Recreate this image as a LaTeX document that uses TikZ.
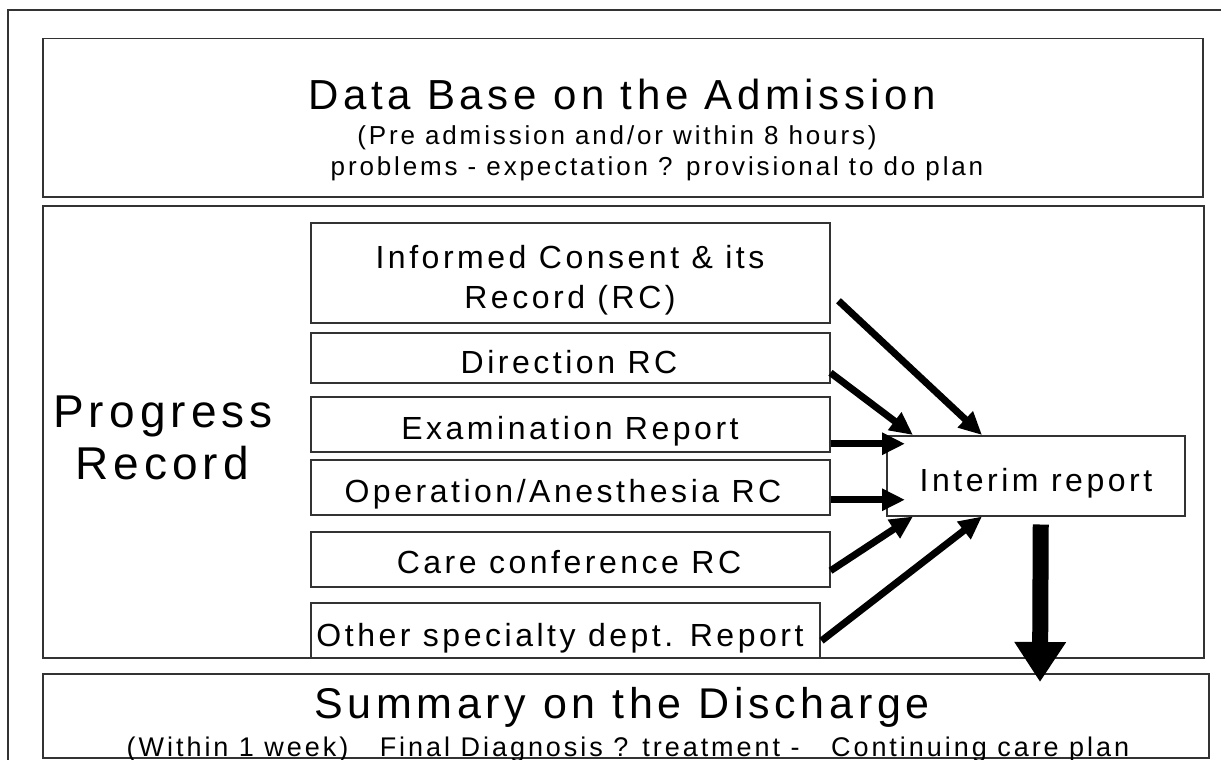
\documentclass[tikz,border=0pt]{standalone}
\usepackage{fontspec}
\setmainfont{Liberation Sans}[LetterSpace=11]
\usetikzlibrary{arrows.meta}
\newcommand\fsz[1]{\fontsize{#1}{#1}\selectfont}
\begin{document}
\begin{tikzpicture}[x=1pt,y=-1pt,
  frame/.style={draw=black!80, line width=1.5pt},
  panel/.style={draw=black!80, line width=1.5pt, rectangle, inner sep=0pt, anchor=north west},
  txt/.style={anchor=base, inner sep=0pt},
  arr/.style={line width=7pt, -{Triangle[length=23pt,width=21pt]}},
  bigarr/.style={line width=16pt, -{Triangle[length=40pt,width=49pt]}}]
\useasboundingbox (0,0) rectangle (1221,760);
\fill[white] (0,0) rectangle (1221,760);
\draw[frame] (8,10) rectangle (1240,790);
% panels
\node[panel, minimum width=1160pt, minimum height=158pt] (top) at (42,38) {};
\node[panel, minimum width=1161pt, minimum height=452pt] (prog) at (42,205) {};
\node[panel, minimum width=1166pt, minimum height=84pt] (sum) at (42,673) {};
% left boxes
\node[panel, minimum width=519pt, minimum height=100pt] (b1) at (310,222) {};
\node[panel, minimum width=519pt, minimum height=50pt] (b2) at (310,332) {};
\node[panel, minimum width=519pt, minimum height=55pt] (b3) at (310,396) {};
\node[panel, minimum width=519pt, minimum height=55pt] (b4) at (310,459) {};
\node[panel, minimum width=519pt, minimum height=55pt] (b5) at (310,531) {};
\node[panel, minimum width=509pt, minimum height=55pt] (b6) at (310,602) {};
\node[panel, minimum width=298pt, minimum height=80pt] (interim) at (886,435) {};
% texts
\node[txt, font=\fsz{42}] (ttitle) at (622,110) {Data Base on the Admission};
\node[txt, font=\fsz{26}] (tsub) at (617,144) {(Pre admission and/or within 8 hours)};
\node[txt, font=\fsz{26}] (tthird) at (657,175) {problems - expectation ? provisional to do plan};
\node[txt, font=\fsz{46}] (tprog) at (163,427) {Progress};
\node[txt, font=\fsz{46}] (trec) at (162,479) {Record};
\node[txt, font=\fsz{32}] (t1a) at (570,268) {Informed Consent \& its};
\node[txt, font=\fsz{32}] (t1b) at (570,308) {Record (RC)};
\node[txt, font=\fsz{32}] (t2) at (569,373) {Direction RC};
\node[txt, font=\fsz{32}] (t3) at (570,439) {Examination Report};
\node[txt, font=\fsz{32}] (t4) at (563,502) {Operation/Anesthesia RC};
\node[txt, font=\fsz{32}] (t5) at (569,573) {Care conference RC};
\node[txt, font=\fsz{32}] (t6) at (560,646) {Other specialty dept. Report};
\node[txt, font=\fsz{32}] (tint) at (1036,491) {Interim report};
\node[txt, font=\fsz{43}] (tsum) at (622,718) {Summary on the Discharge};
\node[txt, font=\fsz{27}] (tsum2) at (628,756) {(Within 1 week)\ \ \ Final Diagnosis ? treatment -\ \ \ Continuing care plan};
% arrows
\draw[arr] ([xshift=8pt,yshift=-28pt]b1.east) -- ([xshift=96pt]interim.north west);
\draw[arr] ([yshift=-15pt]b2.east) -- ([xshift=27pt]interim.north west);
\draw[arr] ([yshift=-19.5pt]b3.east) -- ([xshift=19pt,yshift=32pt]interim.west);
\draw[arr] ([yshift=-12.5pt]b4.east) -- ([xshift=19pt,yshift=-24pt]interim.west);
\draw[arr] ([yshift=-11.5pt]b5.east) -- ([xshift=27pt]interim.south west);
\draw[arr] ([xshift=1pt,yshift=-10.5pt]b6.east) -- ([xshift=96pt]interim.south west);
\coordinate (dtip) at (1040,682);
\draw[bigarr] ([xshift=5pt,yshift=-8pt]interim.south) -- (dtip);
\end{tikzpicture}
\end{document}
